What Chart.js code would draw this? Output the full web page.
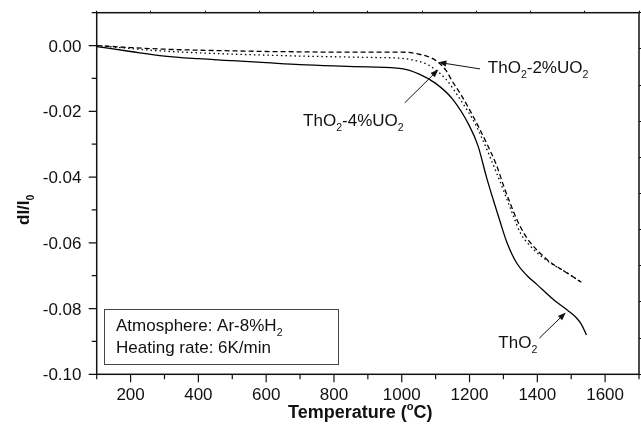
<!DOCTYPE html>
<html>
<head>
<meta charset="utf-8">
<script src="https://cdn.jsdelivr.net/npm/chart.js@4.4.1/dist/chart.umd.min.js"></script>
<style>
  html, body { margin: 0; padding: 0; background: #fff; }
  #wrap { position: relative; width: 641px; height: 429px; }
</style>
</head>
<body>
<div id="wrap"><canvas id="chart"></canvas></div>
<script>
// shrinkage curves dI/I0 against temperature

const TEMP_THO2 = [100, 200, 300, 400, 500, 600, 700, 800, 900, 1000, 1050, 1100, 1150, 1200, 1225, 1250, 1270, 1290, 1310, 1340, 1370, 1400, 1450, 1490, 1515, 1530, 1545];
const DIL_THO2 = [-0.0003, -0.0018, -0.0032, -0.0040, -0.0046, -0.0052, -0.0058, -0.0062, -0.0065, -0.0070, -0.0086, -0.0115, -0.0163, -0.0245, -0.0305, -0.0400, -0.0469, -0.0535, -0.0598, -0.0663, -0.0700, -0.0728, -0.0775, -0.0806, -0.0828, -0.0848, -0.0880];

const TEMP_U2 = [100, 200, 300, 400, 500, 600, 700, 800, 900, 1000, 1050, 1100, 1130, 1150, 1175, 1200, 1250, 1280, 1300, 1320, 1340, 1360, 1380, 1430, 1490, 1530];
const DIL_U2 = [0.0000, -0.0006, -0.0011, -0.0014, -0.0016, -0.0018, -0.0019, -0.0020, -0.0020, -0.0020, -0.0026, -0.0045, -0.0075, -0.0110, -0.0150, -0.0195, -0.0296, -0.0365, -0.0425, -0.0480, -0.0530, -0.0570, -0.0600, -0.0652, -0.0693, -0.0720];

const TEMP_U4 = [100, 200, 300, 400, 500, 600, 700, 800, 900, 1000, 1050, 1085, 1130, 1170, 1220, 1280, 1330, 1350, 1390, 1430, 1490, 1530];
const DIL_U4 = [0.0000, -0.0009, -0.0017, -0.0022, -0.0026, -0.0029, -0.0032, -0.0034, -0.0036, -0.0039, -0.0048, -0.0063, -0.0102, -0.0160, -0.0245, -0.0388, -0.0520, -0.0570, -0.0621, -0.0655, -0.0693, -0.0720];

const X_MIN = 100, X_MAX = 1700, X_STEP = 100;
const Y_MIN = -0.10, Y_MAX = 0.01, Y_STEP = 0.01;

const FONT = "'Liberation Sans', Arial, Helvetica, sans-serif";
const INK = "#111";

// rich text pieces: [text, 0 normal | 1 subscript | 2 superscript]
const NOTES = [
  { parts: [["ThO", 0], ["2", 1], ["-2%UO", 0], ["2", 1]], at: [1254, -0.0082], tail: [1231, -0.0071], head: [1108, -0.0051] },
  { parts: [["ThO", 0], ["2", 1], ["-4%UO", 0], ["2", 1]], at: [709, -0.0244], tail: [1009, -0.0174], head: [1108, -0.0073] },
  { parts: [["ThO", 0], ["2", 1]], at: [1285, -0.0920], tail: [1406, -0.0890], head: [1484, -0.0812] },
];

const BOX_LINES = [
  [["Atmosphere: Ar-8%H", 0], ["2", 1]],
  [["Heating rate: 6K/min", 0]],
];

function series(xs, ys) {
  return xs.map((x, i) => ({ x, y: ys[i] }));
}

function drawRich(ctx, parts, x, y, size, weight = "normal") {
  let cx = x;
  for (const [text, mode] of parts) {
    const s = mode ? size * 0.62 : size;
    const dy = mode === 1 ? size * 0.3 : mode === 2 ? -size * 0.42 : 0;
    ctx.font = `${weight} ${s}px ${FONT}`;
    ctx.fillText(text, cx, y + dy);
    cx += ctx.measureText(text).width;
  }
}

function arrow(ctx, x0, y0, x1, y1) {
  const ang = Math.atan2(y1 - y0, x1 - x0);
  const len = 8, half = 3;
  ctx.beginPath();
  ctx.moveTo(x0, y0);
  ctx.lineTo(x1 - Math.cos(ang) * len * 0.8, y1 - Math.sin(ang) * len * 0.8);
  ctx.stroke();
  ctx.beginPath();
  ctx.moveTo(x1, y1);
  ctx.lineTo(x1 - Math.cos(ang) * len - Math.sin(ang) * half, y1 - Math.sin(ang) * len + Math.cos(ang) * half);
  ctx.lineTo(x1 - Math.cos(ang) * len + Math.sin(ang) * half, y1 - Math.sin(ang) * len - Math.cos(ang) * half);
  ctx.closePath();
  ctx.fill();
}

const decorations = {
  id: "decorations",
  afterDraw(chart) {
    const { ctx, chartArea: a } = chart;
    const xs = chart.scales.x, ys = chart.scales.y;
    const px = (v) => xs.getPixelForValue(v);
    const py = (v) => ys.getPixelForValue(v);

    ctx.save();
    ctx.strokeStyle = INK;
    ctx.fillStyle = INK;

    // frame
    ctx.lineWidth = 1.5;
    ctx.strokeRect(a.left, a.top, a.right - a.left, a.bottom - a.top);

    // bottom ticks and labels, major every 200
    ctx.lineWidth = 1.2;
    ctx.font = `17px ${FONT}`;
    ctx.textAlign = "center";
    ctx.textBaseline = "alphabetic";
    ctx.beginPath();
    for (let v = X_MIN; v <= X_MAX; v += X_STEP) {
      const major = v % 200 === 0;
      const x = px(v);
      ctx.moveTo(x, a.bottom);
      ctx.lineTo(x, a.bottom + (major ? 8 : 5));
      if (major && v < X_MAX) ctx.fillText(String(v), x, 400);
    }
    // left ticks and labels, major every 0.02
    ctx.textAlign = "right";
    const n = Math.round((Y_MAX - Y_MIN) / Y_STEP);
    for (let k = 0; k <= n; k++) {
      const major = k % 2 === 0;
      const v = Y_MIN + k * Y_STEP;
      const y = py(v);
      ctx.moveTo(a.left, y);
      ctx.lineTo(a.left - (major ? 8 : 5), y);
      if (major) ctx.fillText((Math.round(v * 100) / 100).toFixed(2), 81.5, y + 6);
    }
    ctx.stroke();

    // axis titles
    ctx.textAlign = "left";
    drawRich(ctx, [["Temperature (", 0], ["o", 2], ["C)", 0]], 288, 418, 18, "bold");

    ctx.save();
    ctx.translate(29, 225);
    ctx.rotate(-Math.PI / 2);
    drawRich(ctx, [["dI/I", 0], ["0", 1]], 0, 0, 17, "bold");
    ctx.restore();

    // curve labels with arrows
    ctx.lineWidth = 1;
    for (const note of NOTES) {
      drawRich(ctx, note.parts, px(note.at[0]), py(note.at[1]), 17);
      arrow(ctx, px(note.tail[0]), py(note.tail[1]), px(note.head[0]), py(note.head[1]));
    }

    // conditions box
    const bx0 = px(122), by0 = py(-0.0802), bx1 = px(813), by1 = py(-0.0969);
    ctx.strokeStyle = "#444";
    ctx.lineWidth = 1;
    ctx.strokeRect(Math.round(bx0) + 0.5, Math.round(by0) + 0.5, Math.round(bx1 - bx0), Math.round(by1 - by0));
    drawRich(ctx, BOX_LINES[0], px(157), py(-0.0868), 17);
    drawRich(ctx, BOX_LINES[1], px(157), py(-0.0934), 17);

    ctx.restore();
  },
};

const lineBase = {
  borderColor: "#000",
  borderWidth: 1.3,
  pointRadius: 0,
  fill: false,
  cubicInterpolationMode: "monotone",
};

const hiddenAxis = {
  ticks: { display: false },
  grid: { display: false },
  border: { display: false },
};

new Chart(document.getElementById("chart"), {
  type: "line",
  data: {
    datasets: [
      { ...lineBase, label: "ThO2", data: series(TEMP_THO2, DIL_THO2) },
      { ...lineBase, label: "ThO2-2%UO2", data: series(TEMP_U2, DIL_U2), borderDash: [5, 3] },
      { ...lineBase, label: "ThO2-4%UO2", data: series(TEMP_U4, DIL_U4), borderDash: [1.5, 3] },
    ],
  },
  options: {
    responsive: true,
    maintainAspectRatio: false,
    animation: false,
    layout: { padding: 0 },
    plugins: {
      legend: { display: false },
      tooltip: { enabled: false },
    },
    scales: {
      x: {
        ...hiddenAxis,
        type: "linear",
        position: "bottom",
        min: X_MIN,
        max: X_MAX,
        afterFit(scale) { scale.height = 54.7; },
      },
      y: {
        ...hiddenAxis,
        type: "linear",
        position: "left",
        min: Y_MIN,
        max: Y_MAX,
        afterFit(scale) { scale.width = 96.7; },
      },
      // opposite frame sides carry their own finer tick marks
      xTop: {
        type: "linear",
        position: "top",
        min: 0,
        max: 10,
        afterFit(scale) { scale.height = 12.7; },
        ticks: { display: false, stepSize: 1 },
        grid: { drawOnChartArea: false, tickLength: 2, color: INK, lineWidth: 1 },
        border: { display: false },
      },
      yRight: {
        type: "linear",
        position: "right",
        min: 0,
        max: 10,
        afterFit(scale) { scale.width = 2; },
        ticks: { display: false, stepSize: 1 },
        grid: { drawOnChartArea: false, tickLength: 2, color: INK, lineWidth: 1 },
        border: { display: false },
      },
    },
  },
  plugins: [decorations],
});
</script>
</body>
</html>
